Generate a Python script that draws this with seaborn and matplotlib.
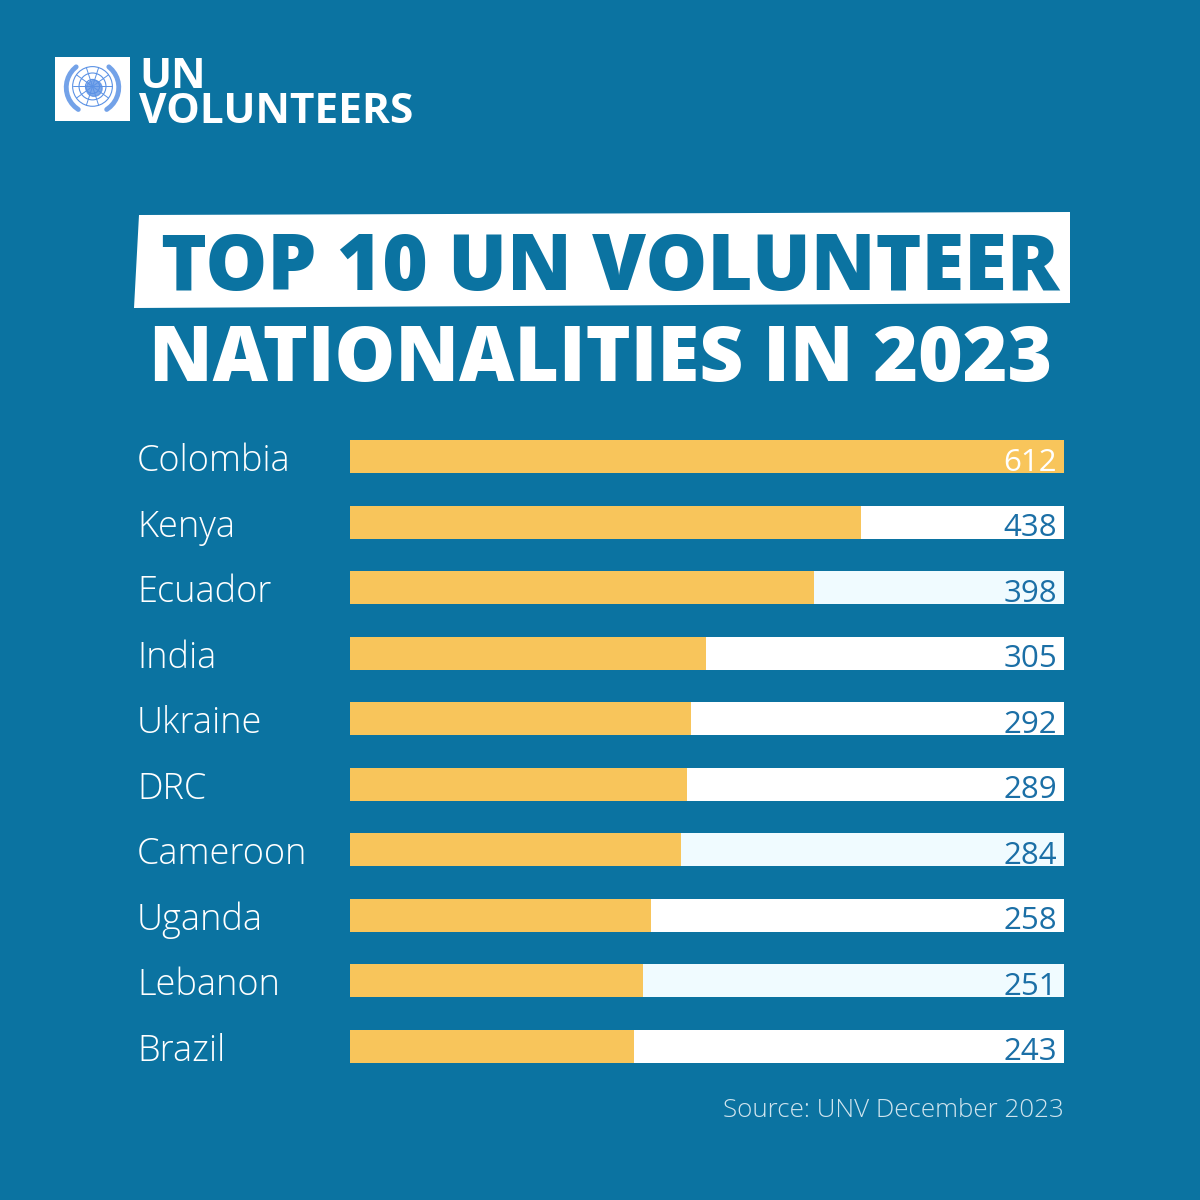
import matplotlib
matplotlib.use('Agg')
import matplotlib.pyplot as plt
import matplotlib.transforms as mtransforms
from matplotlib.patches import Polygon, Circle
import seaborn as sns
import numpy as np
import pandas as pd

countries = ['Colombia', 'Kenya', 'Ecuador', 'India', 'Ukraine', 'DRC',
             'Cameroon', 'Uganda', 'Lebanon', 'Brazil']
volunteers = [612, 438, 398, 305, 292, 289, 284, 258, 251, 243]
title_line1 = 'TOP 10 UN VOLUNTEER'
title_line2 = 'NATIONALITIES IN 2023'
source_text = 'Source: UNV December 2023'

# colours
bg_blue = '#0b73a1'
yellow = '#f8c55b'
num_blue = '#1b6fa6'
track_colors = ['#ffffff', '#ffffff', '#f0fbff', '#ffffff', '#ffffff',
                '#ffffff', '#f0fbff', '#ffffff', '#f0fbff', '#ffffff']

df = pd.DataFrame({'country': countries, 'n': volunteers})
df['track'] = max(volunteers)

sns.set_theme(style='white')
plt.rcParams['font.family'] = ['Open Sans', 'DejaVu Sans']

fig = plt.figure(figsize=(12, 12), dpi=100)
fig.patch.set_facecolor(bg_blue)

# bar axes: 350..1064 px wide, rows centred 457..1046 px
ax = fig.add_axes([350 / 1200, 1 - 1079 / 1200, 714 / 1200, 655 / 1200])
ax.set_facecolor(bg_blue)
sns.barplot(data=df, x='track', y='country', hue='country', palette=track_colors,
            width=0.5, legend=False, ax=ax, saturation=1, linewidth=0)
sns.barplot(data=df, x='n', y='country', color=yellow, width=0.5, ax=ax,
            saturation=1, linewidth=0)
ax.set_xlim(0, max(volunteers))
ax.set_ylim(len(countries) - 0.5, -0.5)
ax.set_axis_off()

# labels
trans = mtransforms.blended_transform_factory(fig.transFigure, ax.transData)
for i, (c, v) in enumerate(zip(countries, volunteers)):
    fig.text(137 / 1200, i + 0.22, c, transform=trans, ha='left', va='baseline',
             fontsize=26, color='white', fontweight='light')
    col = 'white' if v == max(volunteers) else num_blue
    ax.text(max(volunteers) * 0.9905, i + 0.21, str(v), ha='right', va='baseline',
            fontsize=22.5, color=col, fontweight='normal')

# title with white banner behind first line
banner = Polygon([[139 / 1200, 1 - 215 / 1200], [1070 / 1200, 1 - 212 / 1200],
                  [1070 / 1200, 1 - 303 / 1200], [134 / 1200, 1 - 308 / 1200]],
                 closed=True, transform=fig.transFigure, facecolor='white',
                 edgecolor='none', zorder=0.5)
fig.patches.append(banner)
fig.text(610 / 1200, 1 - 290 / 1200, title_line1, ha='center', va='baseline',
         fontsize=56, fontweight='heavy', color=bg_blue)
fig.text(601 / 1200, 1 - 381 / 1200, title_line2, ha='center', va='baseline',
         fontsize=55, fontweight='heavy', color='white')

# source
fig.text(1064 / 1200, 1 - 1117 / 1200, source_text, ha='right', va='baseline',
         fontsize=18.7, fontweight='light', color='#cfe4ee')

# logo: white square with simple emblem
lax = fig.add_axes([55 / 1200, 1 - 121 / 1200, 75 / 1200, 64 / 1200])
lax.set_facecolor('white')
lax.set_xlim(-1.17, 1.17)
lax.set_ylim(-1, 1)
lax.set_xticks([])
lax.set_yticks([])
for s in lax.spines.values():
    s.set_visible(False)
emb = '#5b92e5'
for r in [0.62, 0.42, 0.22]:
    lax.add_patch(Circle((0, 0.08), r, fill=False, lw=0.8, color=emb))
for a in np.linspace(0, np.pi, 5, endpoint=False):
    lax.plot([0.62 * np.cos(a), -0.62 * np.cos(a)],
             [0.08 + 0.62 * np.sin(a), 0.08 - 0.62 * np.sin(a)], lw=0.7, color=emb)
lax.add_patch(Circle((0.05, 0.02), 0.25, color=emb, alpha=0.8))
for side in [-1, 1]:
    t = np.linspace(-1.0, 0.9, 12)
    lax.plot(side * 0.82 * np.cos(t), 0.05 + 0.82 * np.sin(t), lw=3.5,
             color=emb, alpha=0.85, solid_capstyle='round')

fig.text(139 / 1200, 1 - 57 / 1200, 'UN\nVOLUNTEERS', ha='left', va='top',
         fontsize=30.5, fontweight='bold', color='white', linespacing=0.82)

fig.savefig('out.png', dpi=100, facecolor=bg_blue)
